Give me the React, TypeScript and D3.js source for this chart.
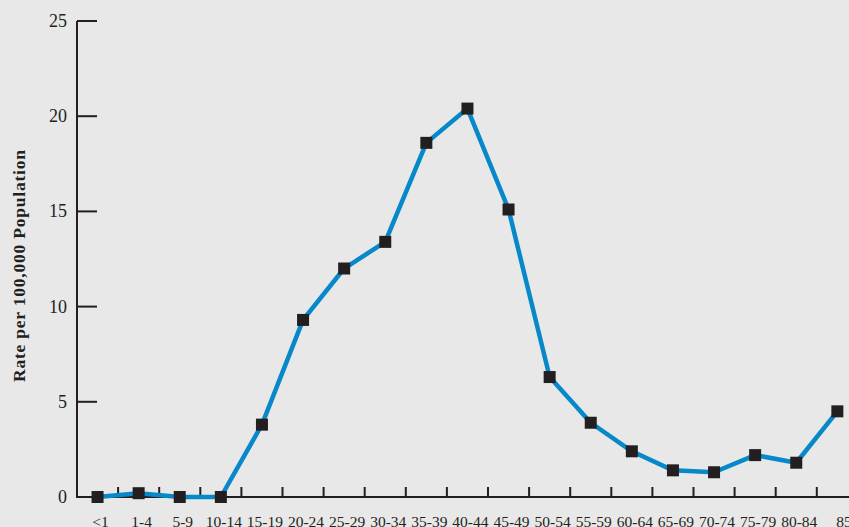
import React from "react";
import * as d3 from "d3";

const categories = ["<1","1-4","5-9","10-14","15-19","20-24","25-29","30-34","35-39","40-44","45-49","50-54","55-59","60-64","65-69","70-74","75-79","80-84","85+"];
const rates = [0,0.2,0,0,3.8,9.3,12.0,13.4,18.6,20.4,15.1,6.3,3.9,2.4,1.4,1.3,2.2,1.8,4.5];
const yTicks = [0,5,10,15,20,25];
const yLabel = "Rate per 100,000 Population";

export default function App() {
  const W = 849, H = 527;
  const x0 = 77, y0 = 497, yTop = 21;
  const step = 41.1;
  const x = d3.scaleBand<string>().domain(categories).range([x0, x0 + step * categories.length]).padding(0);
  const y = d3.scaleLinear().domain([0, 25]).range([y0, yTop]);
  const line = d3.line<number>().x((_, i) => x(categories[i])! + x.bandwidth() / 2).y(d => y(d));
  const ink = "#231f20";
  const font = "'Liberation Serif', 'Times New Roman', serif";
  return (
    <svg width={W} height={H} style={{ position: "absolute", left: 0, top: 0, background: "#e8e8e8" }}>
      <rect x={0} y={0} width={W} height={H} fill="#e8e8e8" />
      <line x1={x0} x2={x0} y1={yTop} y2={y0 + 1} stroke={ink} strokeWidth={2} />
      <line x1={x0 - 1} x2={W} y1={y0} y2={y0} stroke={ink} strokeWidth={2} />
      {yTicks.map(t => (
        <g key={t}>
          {t > 0 && <line x1={x0} x2={x0 + 20} y1={y(t)} y2={y(t)} stroke={ink} strokeWidth={2} />}
          <text x={67} y={y(t)} dy="0.33em" textAnchor="end" fontFamily={font} fontSize={18} fill={ink}>{t}</text>
        </g>
      ))}
      {categories.slice(1).map(c => (
        <line key={c} x1={x(c)!} x2={x(c)!} y1={y0} y2={y0 - 10} stroke={ink} strokeWidth={2} />
      ))}
      {categories.map((c, i) => (
        <text key={c} x={x(c)! + x.bandwidth() / 2 + (i === categories.length - 1 ? 11 : 3)} y={527} textAnchor="middle" fontFamily={font} fontSize={15.5} fill={ink}>{c}</text>
      ))}
      <text transform={`translate(25, 266) rotate(-90)`} textAnchor="middle" fontFamily={font} fontSize={17.5} fontWeight="bold" fill={ink} textLength={232} lengthAdjust="spacing">{yLabel}</text>
      <path d={line(rates)!} fill="none" stroke="#0788c9" strokeWidth={4.5} strokeLinejoin="round" />
      {rates.map((v, i) => (
        <rect key={i} x={x(categories[i])! + x.bandwidth() / 2 - 6} y={y(v) - 6} width={12} height={12} fill={ink} />
      ))}
    </svg>
  );
}
